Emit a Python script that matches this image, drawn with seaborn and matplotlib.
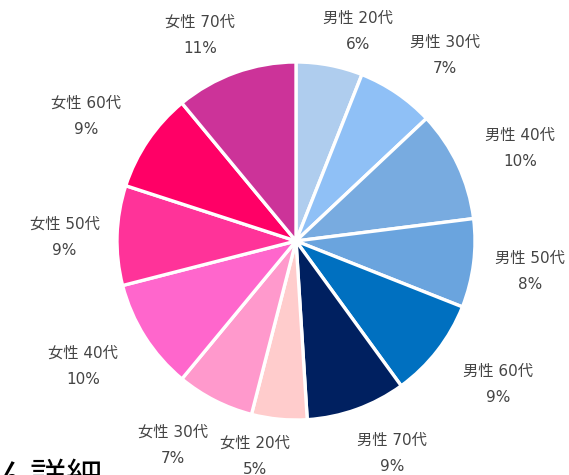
import matplotlib
matplotlib.use('Agg')
import numpy as np
import matplotlib.pyplot as plt
import seaborn as sns

# Data
categories = ['男性 20代', '男性 30代', '男性 40代', '男性 50代', '男性 60代', '男性 70代',
              '女性 20代', '女性 30代', '女性 40代', '女性 50代', '女性 60代', '女性 70代']
shares = [6, 7, 10, 8, 9, 9, 5, 7, 10, 9, 9, 11]
colors = ['#afcdee', '#8fc0f6', '#78abe0', '#6aa4de', '#0070c0', '#002060',
          '#ffcccc', '#ff99cc', '#ff66cc', '#ff3399', '#ff0066', '#cc3399']
footer_text = 'ん詳細'

sns.set_theme(style='white')
plt.rcParams['font.family'] = ['DejaVu Sans', 'Noto Sans CJK JP']

W, H = 569, 475
fig = plt.figure(figsize=(W / 100, H / 100), dpi=100)
cx, cy, r = 296, 234, 179
ax = fig.add_axes([(cx - r) / W, (cy - r) / H, 2 * r / W, 2 * r / H])

wedges, _ = ax.pie(shares, colors=colors, startangle=90, counterclock=False,
                   wedgeprops=dict(edgecolor='white', linewidth=2.4))

# labels outside the pie: a bit further out on the diagonals (box-shaped label),
# and pushed sideways away from the vertical axis
for w, c, v in zip(wedges, categories, shares):
    ang = np.deg2rad((w.theta1 + w.theta2) / 2)
    dist = 1.17 + 0.112 * abs(np.sin(2 * ang))
    x = dist * np.cos(ang) + 0.117 * np.sign(np.cos(ang))
    y = dist * np.sin(ang) - 0.018
    ax.text(x, y, f'{c}\n{v}%', ha='center', va='center', multialignment='center',
            fontsize=11, color='#444444', linespacing=1.92)

ax.set_xlim(-1, 1)
ax.set_ylim(-1, 1)
ax.set_aspect('equal')
ax.axis('off')

fig.text(-6 / W, (H - 462) / H, footer_text, fontsize=26, color='black', va='top', ha='left')

fig.savefig('out.png', dpi=100)
